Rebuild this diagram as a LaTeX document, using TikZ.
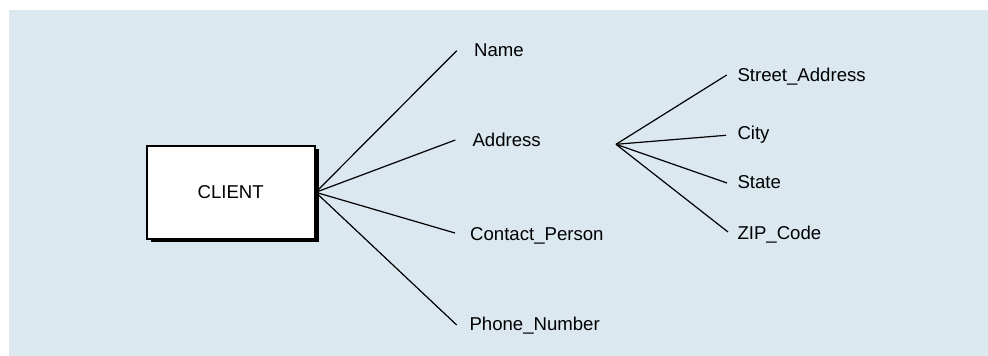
\documentclass[tikz,border=0pt]{standalone}
\usepackage{fontspec}
\setmainfont{Liberation Sans}
\usetikzlibrary{shadows}
\definecolor{panelblue}{RGB}{219,232,240}
\begin{document}
\begin{tikzpicture}[x=1pt,y=-1pt,
  attr/.style={anchor=base west,inner sep=0pt,font=\fontsize{18.6}{22}\selectfont},
  entity/.style={draw=black,fill=white,line width=2pt,minimum width=168pt,minimum height=93.3pt,
    inner sep=0pt,font=\fontsize{18.6}{22}\selectfont,
    drop shadow={shadow xshift=4pt,shadow yshift=-3.5pt,opacity=1,fill=black}},
  link/.style={draw=black,line width=1.2pt}]
  \useasboundingbox (0,0) rectangle (988,356);
  \fill[panelblue] (9,10) rectangle (988,356);

  % entity
  \node[entity] (client) at (230.7,192.3) {CLIENT};

  % attribute labels
  \node[attr] (name)    at (474,56.3)  {Name};
  \node[attr] (address) at (472.3,146.3) {Address};
  \node[attr] (contact) at (470,240.3) {Contact\_Person};
  \node[attr] (phone)   at (469.3,330.5) {Phone\_Number};

  \node[attr] (street) at (737.3,81)    {Street\_Address};
  \node[attr] (city)   at (737.3,139.3) {City};
  \node[attr] (state)  at (737.3,188.3) {State};
  \node[attr] (zip)    at (737.3,239.3) {ZIP\_Code};

  % connector end points, just short of each label
  \coordinate (nameend)    at (456.7,50.7);
  \coordinate (addressend) at (455.3,140);
  \coordinate (contactend) at (455,233);
  \coordinate (phoneend)   at (456.7,325);

  \coordinate (addrhub)   at (616,144.3);
  \coordinate (streetend) at (726.7,75);
  \coordinate (cityend)   at (726,135.3);
  \coordinate (stateend)  at (727,183);
  \coordinate (zipend)    at (728,232);

  % client attributes
  \draw[link] (client.east) -- (nameend);
  \draw[link] (client.east) -- (addressend);
  \draw[link] (client.east) -- (contactend);
  \draw[link] (client.east) -- (phoneend);

  % address components
  \draw[link] (addrhub) -- (streetend);
  \draw[link] (addrhub) -- (cityend);
  \draw[link] (addrhub) -- (stateend);
  \draw[link] (addrhub) -- (zipend);
\end{tikzpicture}
\end{document}
